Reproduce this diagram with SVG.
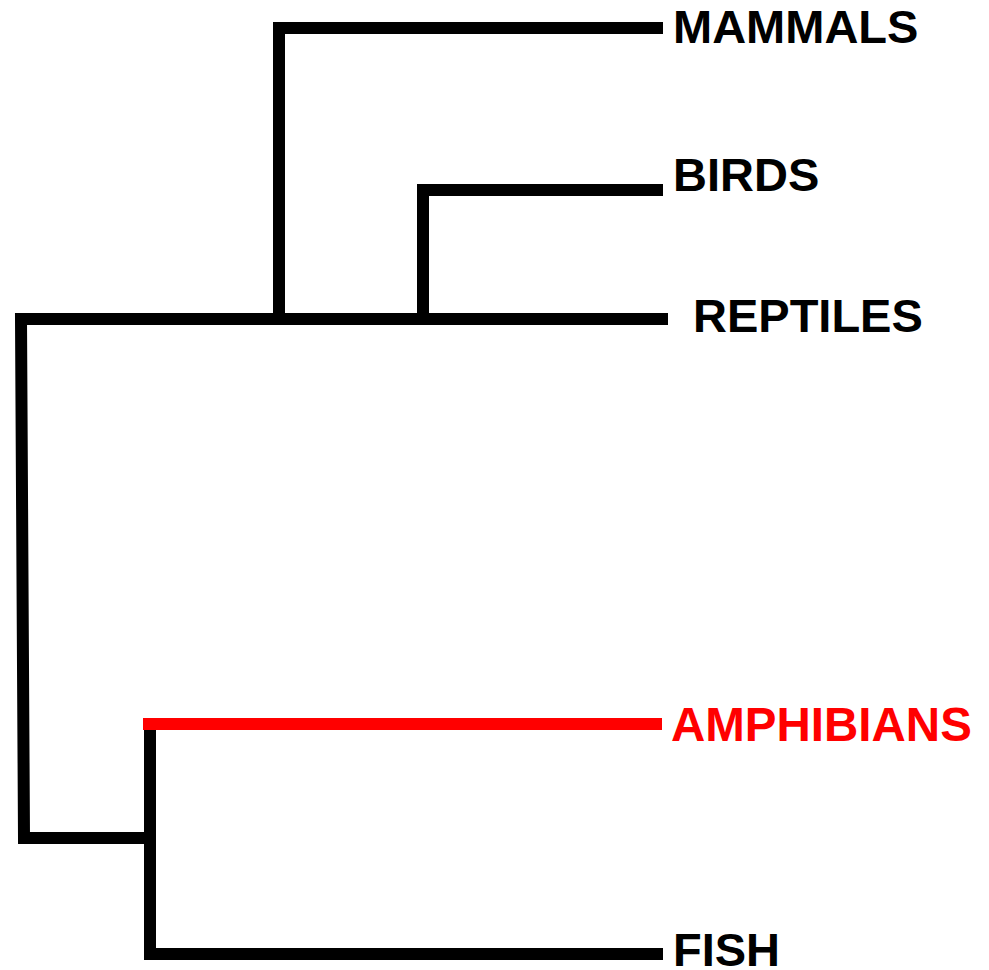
<svg xmlns="http://www.w3.org/2000/svg" width="989" height="970" viewBox="0 0 989 970">
  <style>
    .br { fill: none; stroke: #000; stroke-width: 12; stroke-linecap: butt; stroke-linejoin: miter; }
    .red { stroke: #ff0000; }
    .lbl { font-family: "Liberation Sans", Arial, sans-serif; font-weight: bold; font-size: 47px; fill: #000; }
    .lbl.hl { fill: #ff0000; }
  </style>
  <rect width="989" height="970" fill="#fff"/>
  <g id="connectors">
    <path class="br" d="M 668 319 H 21 L 24 838 H 150"/>
    <path class="br" d="M 279 319 V 28 H 663"/>
    <path class="br" d="M 423 319 V 190 H 663"/>
    <path class="br" d="M 150 838 V 954 H 663"/>
    <path class="br" d="M 150 838 V 730"/>
    <path class="br red" d="M 143 724 H 662"/>
  </g>
  <g id="mammals"><text class="lbl" x="673" y="43">MAMMALS</text></g>
  <g id="birds"><text class="lbl" x="673" y="191">BIRDS</text></g>
  <g id="reptiles"><text class="lbl" x="693" y="332">REPTILES</text></g>
  <g id="amphibians"><text class="lbl hl" x="671" y="741" style="font-size:47.5px">AMPHIBIANS</text></g>
  <g id="fish"><text class="lbl" x="673" y="966">FISH</text></g>
</svg>
